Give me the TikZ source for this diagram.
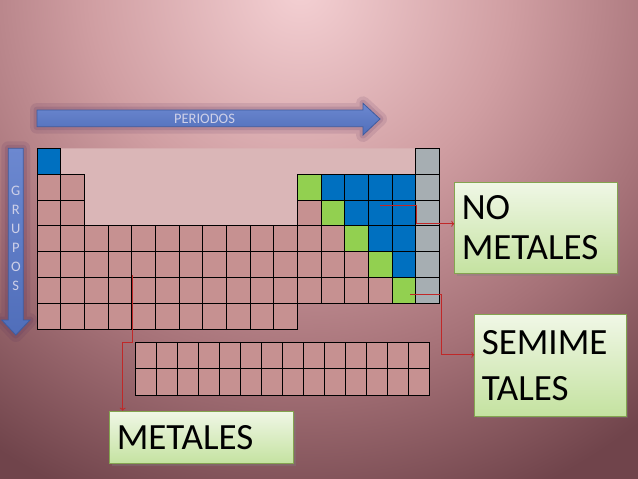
\documentclass[tikz,border=0pt]{standalone}
\usepackage{fontspec}
\setmainfont{Carlito}
\usetikzlibrary{arrows.meta,% tips of the connectors
shadows}%                    drop shadows of the tags
\definecolor{bglight}{RGB}{244,208,211}
\definecolor{bgmid}{RGB}{208,158,162}
\definecolor{bgmid2}{RGB}{166,114,120}
\definecolor{bgdark}{RGB}{112,68,75}
\definecolor{metalc}{RGB}{198,145,145}
\definecolor{nometalc}{RGB}{0,112,192}
\definecolor{semic}{RGB}{146,208,80}
\definecolor{noblec}{RGB}{166,174,178}
\definecolor{emptyc}{RGB}{218,182,183}
\definecolor{tagtop}{RGB}{240,247,230}
\definecolor{tagbottom}{RGB}{196,226,160}
\definecolor{tagborder}{RGB}{132,164,80}
\definecolor{linkc}{RGB}{192,40,40}
\definecolor{arrowtop}{RGB}{108,136,208}
\definecolor{arrowbottom}{RGB}{80,110,186}
\definecolor{arrowborder}{RGB}{62,92,160}
\definecolor{glowc}{RGB}{80,40,90}
\definecolor{labelc}{RGB}{206,208,232}
\pgfdeclareradialshading{slide}{\pgfpointorigin}{color(0bp)=(bglight);
  color(9.6bp)=(bgmid); color(17.3bp)=(bgmid2); color(25bp)=(bgdark);
  color(50bp)=(bgdark)}
\tikzset{every node/.style={font=\fontsize{37}{40}\selectfont},
  cell/.style={draw=black, line width=0.8pt},
  tag/.style={draw=tagborder, line width=1pt, top color=tagtop,
    bottom color=tagbottom, drop shadow={opacity=0.35, shadow xshift=2pt,
    shadow yshift=-2pt}, align=left, inner xsep=7pt, inner ysep=0pt,
    anchor=north west},
  link/.style={draw=linkc, line width=0.8pt, -{To[length=3pt,width=6pt]}},
  bigarrow/.style={preaction={draw=glowc, opacity=0.12, line width=14pt,
    line join=round}, preaction={draw=glowc, opacity=0.15, line width=7pt,
    line join=round}, draw=arrowborder, line width=0.8pt, top color=arrowtop,
    bottom color=arrowbottom},
  axislabel/.style={text=labelc, font=\fontsize{14.5}{14.5}\selectfont}}

\begin{document}
\begin{tikzpicture}[x=1pt, y=-1pt]
  \useasboundingbox (0,0) rectangle (638,479);
  % slide background
  \begin{scope}
    \clip (0,0) rectangle (638,479);
    \shade[shading=slide] (-250,-560) rectangle (850,540);
  \end{scope}
  % arrows PERIODOS and GRUPOS
  \path[bigarrow] (37,110) -- (363,110) -- (363,103.3) -- (380,119)
    -- (363,135) -- (363,126.7) -- (37,126.7) -- cycle;
  \node[axislabel] (periodos) at (204.5,119) {PERIODOS};
  \path[bigarrow] (8.3,148.3) -- (23.3,148.3) -- (23.3,320) -- (30,320)
    -- (15.8,335) -- (1.7,320) -- (8.3,320) -- cycle;
  \foreach \l [count=\i] in {G,R,U,P,O,S}
    \node[axislabel] (grupos-\i) at (15.8,{172+19*\i}) {\l};
  % main table, 17 x 7 cells from (37,148.3)
  \def\cw{23.67}\def\rh{25.86}
  \fill[emptyc] ({37+\cw},148.3) -- ({37+16*\cw},148.3)
    -- ({37+16*\cw},{148.3+\rh}) -- ({37+11*\cw},{148.3+\rh})
    -- ({37+11*\cw},{148.3+3*\rh}) -- ({37+2*\cw},{148.3+3*\rh})
    -- ({37+2*\cw},{148.3+\rh}) -- ({37+\cw},{148.3+\rh}) -- cycle;
  \foreach \r/\last in {2/2, 3/2, 4/13, 5/14, 6/15, 7/11}
    \foreach \c in {1,...,\last}
      \draw[cell, fill=metalc] ({37+(\c-1)*\cw},{148.3+(\r-1)*\rh})
        rectangle ++(\cw,\rh);
  \draw[cell, fill=metalc] ({37+11*\cw},{148.3+2*\rh}) rectangle ++(\cw,\rh);
  \foreach \c/\r in {1/1, 13/2, 14/2, 15/2, 16/2, 14/3, 15/3, 16/3, 15/4,
      16/4, 16/5}
    \draw[cell, fill=nometalc] ({37+(\c-1)*\cw},{148.3+(\r-1)*\rh})
      rectangle ++(\cw,\rh);
  \foreach \c/\r in {12/2, 13/3, 14/4, 15/5, 16/6}
    \draw[cell, fill=semic] ({37+(\c-1)*\cw},{148.3+(\r-1)*\rh})
      rectangle ++(\cw,\rh);
  \foreach \r in {1,...,6}
    \draw[cell, fill=noblec] ({37+16*\cw},{148.3+(\r-1)*\rh})
      rectangle ++(\cw,\rh);
  % lower block, 14 x 2 cells
  \foreach \r in {1,2}
    \foreach \c in {1,...,14}
      \draw[cell, fill=metalc] ({135+(\c-1)*21.02},{342.7+(\r-1)*26.15})
        rectangle ++(21.02,26.15);
  % tags
  \node[tag, minimum width=163, minimum height=91.6, text width=149]
    (nometales) at (454.3,181.7) {NO\\METALES};
  \node[tag, minimum width=151.4, minimum height=101.4, text width=137.4,
    font=\fontsize{37}{46.5}\selectfont]
    (semimetales) at (474.3,314.3) {SEMIME\\TALES};
  \node[tag, minimum width=184, minimum height=52.6, text width=170]
    (metales) at (109.3,410.7) {METALES};
  % connectors
  \coordinate (nmfrom) at (380,205.7);
  \coordinate (nmbend) at (416.7,205.7);
  \draw[link] (nmfrom) -- (nmbend) |- ([yshift=4.2pt]nometales.west);
  \coordinate (smfrom) at (410,294);
  \coordinate (smbend) at (441.7,294);
  \draw[link] (smfrom) -- (smbend) |- ([yshift=10.7pt]semimetales.west);
  \coordinate (mfrom) at (132.7,275);
  \coordinate (mbend) at (122.7,342.7);
  \draw[link] (mfrom) |- (mbend) -- (mbend |- metales.north);
\end{tikzpicture}
\end{document}
